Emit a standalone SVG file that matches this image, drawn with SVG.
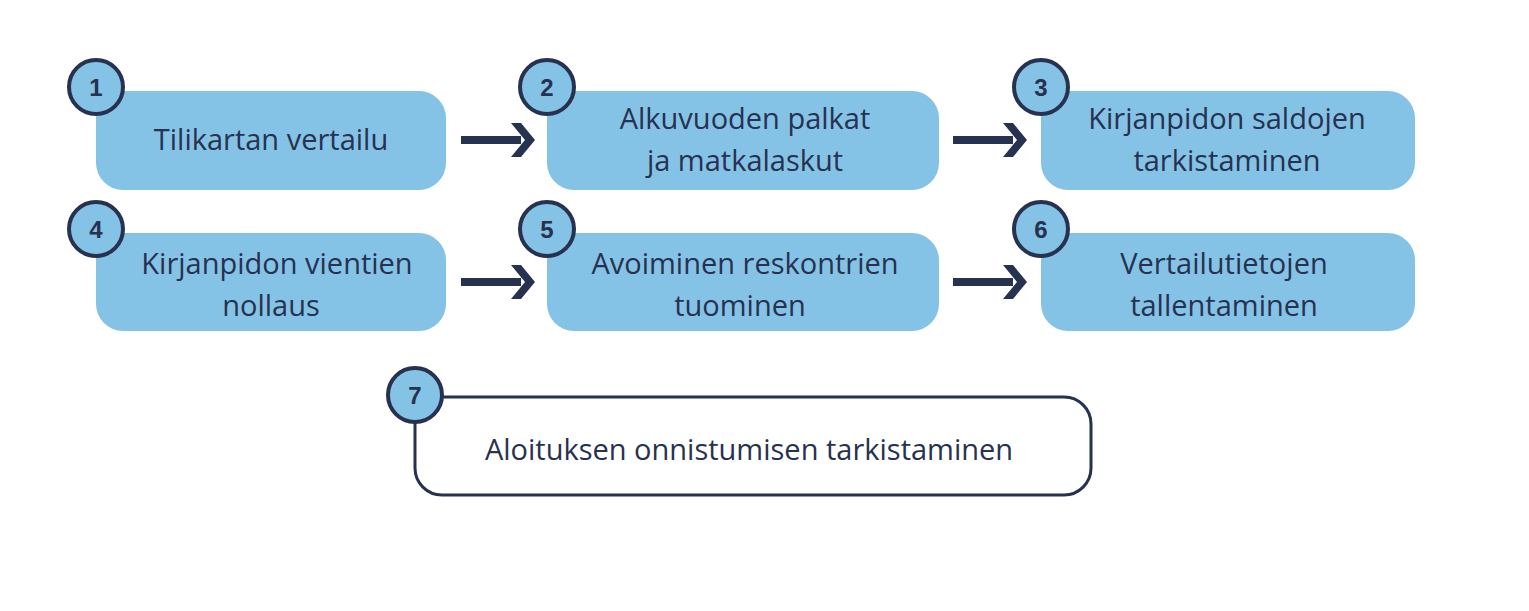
<svg xmlns="http://www.w3.org/2000/svg" width="1529" height="611" viewBox="0 0 1529 611">
<style>
.box{fill:#85c3e6}
.num{fill:#85c3e6;stroke:#273150;stroke-width:4}
.nt{font-family:"Liberation Sans",sans-serif;font-weight:bold;font-size:24px;fill:#273150;text-anchor:middle}
.t{font-family:"Open Sans",sans-serif;font-size:29px;fill:#273150;text-anchor:middle}
.arr{fill:#273150}
</style>
<defs>
<path id="a" d="M0,-4 H60 V4 H0 Z M50,-17 H60 L74,0 L60,17 H50 L64,0 Z"/>
</defs>
<rect width="1529" height="611" fill="#fff"/>
<g id="connectors" class="arr">
<use href="#a" x="461" y="140"/>
<use href="#a" x="953" y="140"/>
<use href="#a" x="461" y="282"/>
<use href="#a" x="953" y="282"/>
</g>
<g id="n1"><rect class="box" x="96" y="91" width="350" height="99" rx="27"/><circle class="num" cx="96" cy="87" r="27"/><text class="nt" x="96" y="96">1</text><text class="t" x="271" y="150">Tilikartan vertailu</text></g>
<g id="n2"><rect class="box" x="547" y="91" width="392" height="99" rx="27"/><circle class="num" cx="547" cy="87" r="27"/><text class="nt" x="547" y="96">2</text><text class="t" x="745" y="129">Alkuvuoden palkat</text><text class="t" x="745" y="171">ja matkalaskut</text></g>
<g id="n3"><rect class="box" x="1041" y="91" width="374" height="99" rx="27"/><circle class="num" cx="1041" cy="87" r="27"/><text class="nt" x="1041" y="96">3</text><text class="t" x="1227" y="129">Kirjanpidon saldojen</text><text class="t" x="1227" y="171">tarkistaminen</text></g>
<g id="n4"><rect class="box" x="96" y="233" width="350" height="98" rx="27"/><circle class="num" cx="96" cy="229" r="27"/><text class="nt" x="96" y="238">4</text><text class="t" x="277" y="274">Kirjanpidon vientien</text><text class="t" x="271" y="316">nollaus</text></g>
<g id="n5"><rect class="box" x="547" y="233" width="392" height="98" rx="27"/><circle class="num" cx="547" cy="229" r="27"/><text class="nt" x="547" y="238">5</text><text class="t" x="745" y="274">Avoiminen reskontrien</text><text class="t" x="740" y="316">tuominen</text></g>
<g id="n6"><rect class="box" x="1041" y="233" width="374" height="98" rx="27"/><circle class="num" cx="1041" cy="229" r="27"/><text class="nt" x="1041" y="238">6</text><text class="t" x="1224" y="274">Vertailutietojen</text><text class="t" x="1224" y="316">tallentaminen</text></g>
<g id="n7"><rect x="415" y="397" width="676" height="98" rx="27" fill="#fff" stroke="#273150" stroke-width="3"/><circle class="num" cx="415" cy="395" r="27"/><text class="nt" x="415" y="404">7</text><text class="t" x="749" y="460">Aloituksen onnistumisen tarkistaminen</text></g>
</svg>
